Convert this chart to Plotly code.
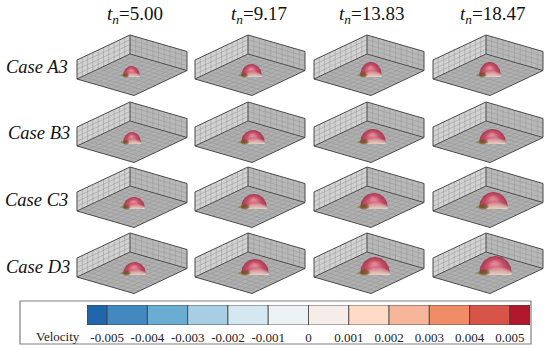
import numpy as np
import plotly.graph_objects as go

# ---------- data ----------
cases = ["Case A3", "Case B3", "Case C3", "Case D3"]
times = ["5.00", "9.17", "13.83", "18.47"]
dome_width_A = [17, 21, 22, 22]
dome_width_B = [18, 24, 26, 27]
dome_width_C = [22, 26, 28, 29]
dome_width_D = [23, 28, 30, 33]
dome_height_A = [11, 13, 15, 15]
dome_height_B = [12, 14, 15, 15]
dome_height_C = [12, 15, 16, 17]
dome_height_D = [13, 16, 18, 19]
velocity_edges = [-0.0055, -0.005, -0.004, -0.003, -0.002, -0.001, 0,
                  0.001, 0.002, 0.003, 0.004, 0.005, 0.0055]
velocity_ticks = [-0.005, -0.004, -0.003, -0.002, -0.001, 0,
                  0.001, 0.002, 0.003, 0.004, 0.005]
velocity_labels = ["-0.005", "-0.004", "-0.003", "-0.002", "-0.001", "0",
                   "0.001", "0.002", "0.003", "0.004", "0.005"]
velocity_colors = ["#2166ac", "#4488c0", "#6bacd2", "#a8cee4", "#d5e7f1", "#ecf1f3",
                   "#f7ede8", "#fddbc7", "#f6b69a", "#f18c69", "#d65448", "#b2182b"]

# ---------- panel layout (pixels) ----------
W, H = 550, 348
col_back_x = [130, 248, 367, 486]
row_back_y = [35, 102, 167, 233]
title_x = [135, 259, 371, 492]
case_x = [36.5, 38.5, 36.5, 38]
case_y = [67, 133, 200, 267]
EX = np.array([57.0, 16.5])    # back corner -> right corner
EY = np.array([-53.0, 25.0])   # back corner -> left corner
WALL = 19.0
N_FLOOR = 10
N_WALL = 4

fig = go.Figure()


def poly(pts, color):
    p = np.array(pts)
    fig.add_trace(go.Scatter(x=p[:, 0], y=p[:, 1], mode="lines", fill="toself",
                             fillcolor=color, line=dict(width=0), hoverinfo="skip",
                             showlegend=False))


def lines(segs, color, width):
    xs, ys = [], []
    for a, b in segs:
        xs += [a[0], b[0], None]
        ys += [a[1], b[1], None]
    fig.add_trace(go.Scatter(x=xs, y=ys, mode="lines", line=dict(color=color, width=width),
                             hoverinfo="skip", showlegend=False))


def box(bx, by):
    top = np.array([bx, by], float)
    bot = top + [0, WALL]
    up = np.array([0, -WALL])
    L, R, F = bot + EY, bot + EX, bot + EX + EY
    poly([bot, L, F, R], "#b0b0b0")
    poly([bot, L, L + up, bot + up], "#d2d2d2")
    poly([bot, R, R + up, bot + up], "#b8b8b8")
    segs = []
    for i in range(1, N_FLOOR):
        f = i / N_FLOOR
        segs.append((bot + EX * f, bot + EX * f + EY))
        segs.append((bot + EY * f, bot + EY * f + EX))
        segs.append((bot + EX * f, bot + EX * f + up))
        segs.append((bot + EY * f, bot + EY * f + up))
    for j in range(1, N_WALL):
        g = j / N_WALL
        segs.append((bot + up * g, R + up * g))
        segs.append((bot + up * g, L + up * g))
    lines(segs, "#949494", 0.5)
    outline = [(bot, L), (L, F), (F, R), (R, bot), (bot, top), (L, L + up), (R, R + up),
               (top, L + up), (top, R + up)]
    lines(outline, "#4a4a4a", 1)


def ellipse(cx, cy, rx, ry, a0=0.0, a1=2 * np.pi, n=40):
    t = np.linspace(a0, a1, n)
    return np.c_[cx + rx * np.cos(t), cy - ry * np.sin(t)]


def mix(c1, c2, f):
    c = [round(a + (b - a) * f) for a, b in zip(c1, c2)]
    return f"rgb({c[0]},{c[1]},{c[2]})"


def dome(bx, by, w, h):
    left = bx - 7
    base = by + 42
    cx = left + w / 2
    y0 = base - 0.14 * h
    outline = np.r_[ellipse(cx, y0, 0.49 * w, 0.86 * h, 0, np.pi),
                    ellipse(cx, y0, 0.49 * w, 0.14 * h, np.pi, 2 * np.pi, 20)]
    poly(ellipse(left + 0.02 * w, base - 2, 0.10 * w + 1.2, 1.3), "rgba(140,135,85,0.8)")
    rim, mid, pale = (168, 64, 84), (198, 80, 106), (224, 134, 148)
    hx, hy = cx - 0.02 * w, base - 0.62 * h
    for k, s in enumerate(np.linspace(1, 0.2, 9)):
        f = k / 8
        col = mix(rim, mid, f * 2) if f < 0.5 else mix(mid, pale, (f - 0.5) * 2)
        poly(np.c_[hx + (outline[:, 0] - hx) * s, hy + (outline[:, 1] - hy) * s], col)
    # cream rising from the base: curved bands, widest on the right
    for a in np.linspace(0.42, 0.0, 8):
        band = ellipse(cx + 0.08 * w, base + 0.10 * h, 0.50 * w, (a + 0.10) * h)
        band[:, 0] = np.clip(band[:, 0], cx - 0.49 * w, cx + 0.49 * w)
        band[:, 1] = np.minimum(band[:, 1], base)
        poly(band, "rgba(240,226,210,0.24)")
    # brown shadow on the lower left
    for k in range(4):
        poly(ellipse(left + 0.16 * w, base - 0.14 * h, (0.16 - 0.03 * k) * w + 0.5,
                     (0.16 - 0.025 * k) * h + 0.3), "rgba(118,84,36,0.38)")


widths = [dome_width_A, dome_width_B, dome_width_C, dome_width_D]
heights = [dome_height_A, dome_height_B, dome_height_C, dome_height_D]
for r in range(len(cases)):
    for c in range(len(times)):
        box(col_back_x[c], row_back_y[r])
        dome(col_back_x[c], row_back_y[r], widths[r][c], heights[r][c])

edges = np.array(velocity_edges)
fig.add_trace(go.Bar(x=(edges[:-1] + edges[1:]) / 2, y=[1] * len(velocity_colors),
                     width=np.diff(edges), xaxis="x2", yaxis="y2",
                     marker=dict(color=velocity_colors, line=dict(color="#3c3c3c", width=0.8)),
                     hoverinfo="skip", showlegend=False))

ann = []
for x, t in zip(title_x, times):
    ann.append(dict(x=x, y=15, text=f"<i>t<sub>n</sub></i>={t}", showarrow=False,
                    font=dict(family="Liberation Serif", size=19, color="#111111")))
for x, y, name in zip(case_x, case_y, cases):
    ann.append(dict(x=x, y=y, text=f"<i>{name}</i>", showarrow=False,
                    font=dict(family="Liberation Serif", size=18.5, color="#111111")))
ann.append(dict(x=58, y=336.5, text="Velocity", showarrow=False,
                font=dict(family="Liberation Serif", size=13, color="#222222")))

fig.update_layout(
    width=W, height=H, margin=dict(l=0, r=0, t=0, b=0), autosize=False,
    paper_bgcolor="white", plot_bgcolor="white", showlegend=False, annotations=ann,
    xaxis=dict(range=[0, W], visible=False, fixedrange=True, domain=[0, 1]),
    yaxis=dict(range=[H, 0], visible=False, fixedrange=True, domain=[0, 1]),
    xaxis2=dict(domain=[87 / W, 530 / W], range=[-0.0055, 0.0055], anchor="y2",
                tickmode="array", tickvals=velocity_ticks, ticktext=velocity_labels,
                ticks="", showline=False, showgrid=False, zeroline=False,
                tickfont=dict(family="Liberation Serif", size=13, color="#222222"),
                ticklabelstandoff=3),
    yaxis2=dict(domain=[1 - 325 / H, 1 - 305 / H], range=[0, 1], anchor="x2", visible=False),
    shapes=[dict(type="rect", xref="x", yref="y", x0=20, x1=531, y0=301, y1=344,
                 line=dict(color="#808080", width=1.2), fillcolor="white", layer="below")],
)
fig.write_html("out.html", config={"displayModeBar": False},
               post_script="document.body.style.margin='0';document.body.style.overflow='hidden';")
